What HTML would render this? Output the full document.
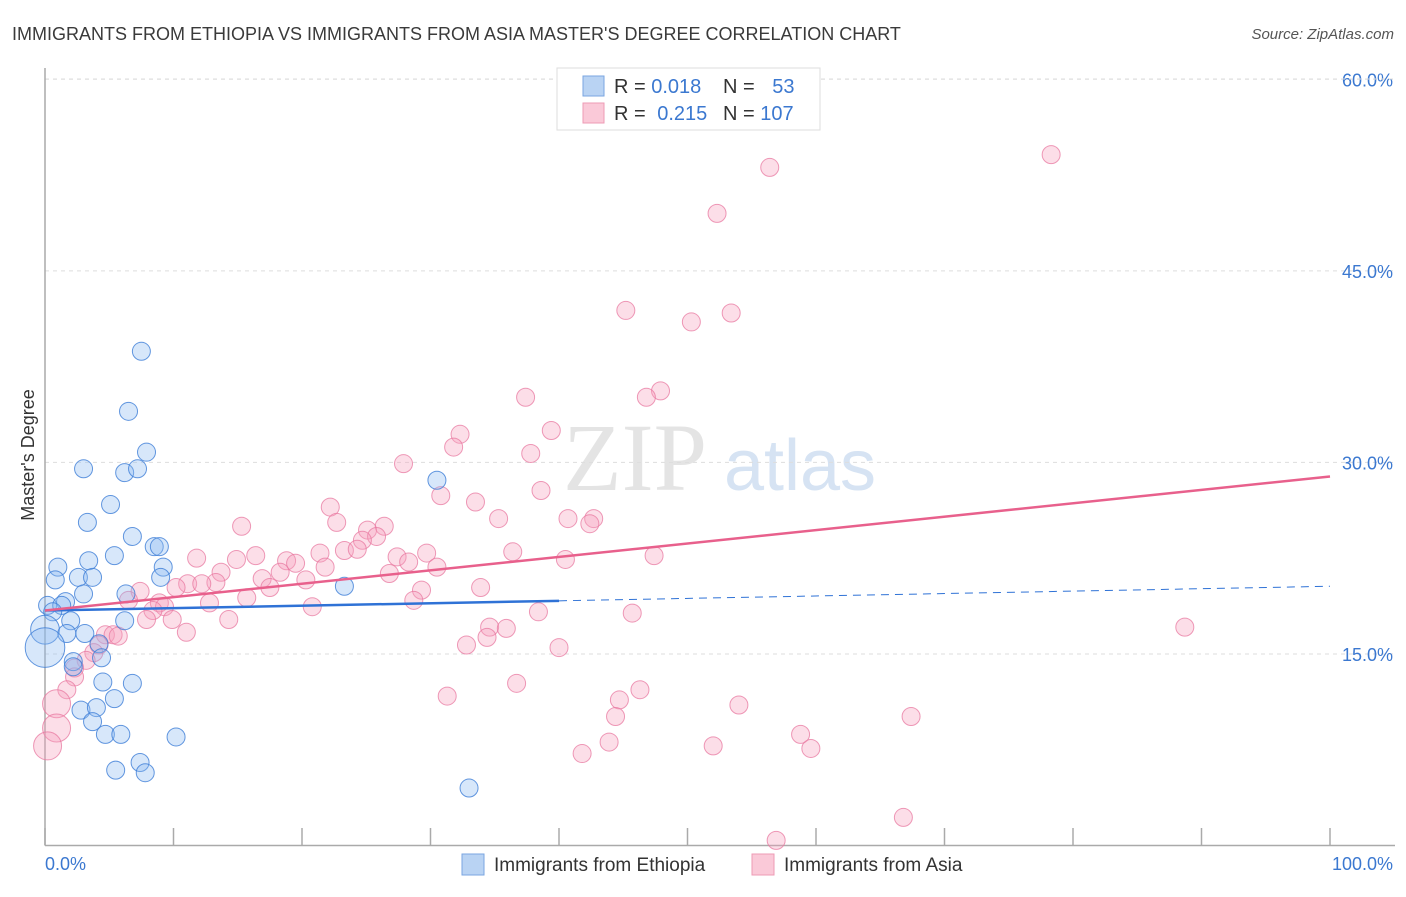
<!DOCTYPE html>
<html><head><meta charset="utf-8"><style>
body{margin:0;background:#fff;font-family:"Liberation Sans",sans-serif;}
svg text{font-family:"Liberation Sans",sans-serif;}
</style></head><body>
<svg id="chart" width="1406" height="892" xmlns="http://www.w3.org/2000/svg">
<text x="12" y="40" font-size="18" fill="#3a3a3a">IMMIGRANTS FROM ETHIOPIA VS IMMIGRANTS FROM ASIA MASTER'S DEGREE CORRELATION CHART</text>
<text x="1394" y="39" font-size="15" fill="#555" font-style="italic" text-anchor="end">Source: ZipAtlas.com</text>
<g>
<text x="635" y="490" font-size="96" fill="#e4e4e4" text-anchor="middle" style="font-family:'Liberation Serif',serif">ZIP</text>
<text x="800" y="490" font-size="72" fill="#d6e3f3" text-anchor="middle">atlas</text>
</g>
<g id="grid"></g>
<g id="axes"></g>
<g id="pts"></g>
<g id="lines"></g>
<text x="34" y="455" font-size="18" fill="#333" text-anchor="middle" transform="rotate(-90 34 455)">Master's Degree</text>
<g>
<rect x="557" y="68" width="263" height="62" fill="#fff" stroke="#ddd"/>
<rect x="583" y="76" width="21" height="20" fill="#b9d3f3" stroke="#7aa6e0"/>
<rect x="583" y="103" width="21" height="20" fill="#fac9d8" stroke="#ee9bb5"/>
<text x="614" y="93" font-size="20" fill="#333">R = <tspan fill="#3b78d0">0.018</tspan></text>
<text x="723" y="93" font-size="20" fill="#333">N = <tspan fill="#3b78d0" dx="12">53</tspan></text>
<text x="614" y="120" font-size="20" fill="#333">R = <tspan fill="#3b78d0" dx="6">0.215</tspan></text>
<text x="723" y="120" font-size="20" fill="#333">N = <tspan fill="#3b78d0">107</tspan></text>
</g>
<g>
<rect x="462" y="854" width="22" height="21" fill="#b9d3f3" stroke="#7aa6e0"/>
<text x="494" y="871" font-size="19" fill="#333">Immigrants from Ethiopia</text>
<rect x="752" y="854" width="22" height="21" fill="#fac9d8" stroke="#ee9bb5"/>
<text x="784" y="871" font-size="19" fill="#333">Immigrants from Asia</text>
</g>
</svg>
<script>
const yTicks=[15,30,45,60];
const yTickLabels=["15.0%","30.0%","45.0%","60.0%"];
const xTicks=[0,10,20,30,40,50,60,70,80,90,100];
const xEndLabels=["0.0%","100.0%"];
const ethX=[7.5,6.5,7.9,3.0,6.2,7.2,5.1,3.3,6.8,8.5,8.9,5.4,3.4,1.0,9.2,2.6,3.7,9.0,0.8,23.3,3.0,6.3,1.6,0.2,1.3,0.6,2.0,6.2,0,1.7,3.1,4.2,0,2.2,4.4,2.2,4.5,6.8,5.4,2.8,4.0,3.7,4.7,5.9,10.2,7.4,5.5,7.8,30.5,33.0];
const ethY=[38.7,34.0,30.8,29.5,29.2,29.5,26.7,25.3,24.2,23.4,23.4,22.7,22.3,21.8,21.8,21.0,21.0,21.0,20.8,20.3,19.7,19.7,19.1,18.8,18.8,18.3,17.6,17.6,16.9,16.6,16.6,15.8,15.5,14.4,14.7,14.0,12.8,12.7,11.5,10.6,10.8,9.7,8.7,8.7,8.5,6.5,5.9,5.7,28.6,4.5];
const ethW=[1,1,1,1,1,1,1,1,1,1,1,1,1,1,1,1,1,1,1,1,1,1,1,1,1,1,1,1,1.6,1,1,1,2.2,1,1,1,1,1,1,1,1,1,1,1,1,1,1,1,1,1];
const asiaX=[78.3,56.4,52.3,45.2,53.4,50.3,47.9,46.8,37.4,32.3,31.8,39.4,37.8,27.9,38.6,30.8,33.5,22.2,35.3,40.7,42.7,42.4,15.3,22.7,26.4,25.1,25.8,24.7,23.3,24.3,36.4,29.7,21.4,47.4,27.4,40.5,11.8,14.9,16.4,18.8,19.5,28.3,21.8,30.5,13.7,18.3,26.8,16.9,20.3,13.3,11.1,12.2,17.5,10.2,33.9,29.3,7.4,15.7,6.5,8.9,28.7,9.3,12.8,8.4,20.8,38.4,45.7,7.9,9.9,14.3,88.7,34.6,35.9,11.0,34.4,4.7,5.3,5.7,40.0,32.8,4.2,3.8,3.2,2.3,2.3,46.3,36.7,1.7,44.7,31.3,54.0,44.4,67.4,0.9,0.9,0.2,58.8,43.9,52.0,59.6,41.8,66.8,56.9];
const asiaY=[54.1,53.1,49.5,41.9,41.7,41.0,35.6,35.1,35.1,32.2,31.2,32.5,30.7,29.9,27.8,27.4,26.9,26.5,25.6,25.6,25.6,25.2,25.0,25.3,25.0,24.7,24.2,23.9,23.1,23.2,23.0,22.9,22.9,22.7,22.6,22.4,22.5,22.4,22.7,22.3,22.1,22.2,21.8,21.8,21.4,21.4,21.3,20.9,20.8,20.6,20.5,20.5,20.2,20.2,20.2,20.0,19.9,19.4,19.2,19.0,19.2,18.7,19.0,18.4,18.7,18.3,18.2,17.7,17.7,17.7,17.1,17.1,17.0,16.7,16.3,16.5,16.5,16.4,15.5,15.7,15.7,15.1,14.5,13.9,13.2,12.2,12.7,12.2,11.4,11.7,11.0,10.1,10.1,11.1,9.2,7.8,8.7,8.1,7.8,7.6,7.2,2.2,0.4];
const ethLine=[18.4,20.3];
const ethSolidEnd=40;
const asiaLine=[18.4,28.9];
</script>
<script>
const NS="http://www.w3.org/2000/svg";
const X0=45,X1=1330,Y0=845.5,PPY=12.77;
const sx=v=>X0+(X1-X0)*v/100;
const sy=v=>Y0-v*PPY;
function mk(tag,attrs,parent){const e=document.createElementNS(NS,tag);for(const k in attrs)e.setAttribute(k,attrs[k]);parent.appendChild(e);return e;}
const gridG=document.getElementById('grid'),axesG=document.getElementById('axes'),ptsG=document.getElementById('pts'),linesG=document.getElementById('lines');
yTicks.forEach((t,i)=>{
  const l=mk('line',{x1:X0,x2:1395,y1:sy(t),y2:sy(t),stroke:'#ddd','stroke-dasharray':'4,4'},gridG);
  
  
  const tx=mk('text',{x:1393,y:sy(t)+7,'font-size':18,fill:'#3b78d0','text-anchor':'end'},gridG);
  tx.textContent=yTickLabels[i];
  
  
});
const topGrid=mk('line',{x1:X0,x2:1395,y1:79,y2:79,stroke:'#ddd','stroke-dasharray':'4,4'},gridG);


const ya=mk('line',{x1:X0,x2:X0,y1:68,y2:Y0,stroke:'#aaa','stroke-width':1.5},axesG);


const xa=mk('line',{x1:X0,x2:1395,y1:Y0,y2:Y0,stroke:'#aaa','stroke-width':1.5},axesG);


xTicks.forEach(t=>{
  const tk=mk('line',{x1:sx(t),x2:sx(t),y1:828,y2:Y0,stroke:'#aaa','stroke-width':1.5},axesG);
  
  
});
const xl0=mk('text',{x:45,y:870,'font-size':18,fill:'#3b78d0'},axesG);xl0.textContent=xEndLabels[0];


const xl1=mk('text',{x:1393,y:870,'font-size':18,fill:'#3b78d0','text-anchor':'end'},axesG);xl1.textContent=xEndLabels[1];


asiaX.forEach((v,i)=>{
  const c=mk('circle',{cx:sx(v),cy:sy(asiaY[i]),r:(v<1.2&&asiaY[i]<12)?14:9,fill:'rgba(245,160,190,0.35)',stroke:'rgba(232,120,160,0.75)','stroke-width':1},ptsG);
  
  
});
ethX.forEach((v,i)=>{
  const c=mk('circle',{cx:sx(v),cy:sy(ethY[i]),r:9*ethW[i],fill:'rgba(140,185,240,0.35)',stroke:'rgba(60,125,215,0.8)','stroke-width':1},ptsG);
  
  
});
const lv=(a,x)=>a[0]+(a[1]-a[0])*x/100;
const e1=mk('line',{x1:sx(0),y1:sy(ethLine[0]),x2:sx(ethSolidEnd),y2:sy(lv(ethLine,ethSolidEnd)),stroke:'#2f72d6','stroke-width':2.5},linesG);


const e2=mk('line',{x1:sx(ethSolidEnd),y1:sy(lv(ethLine,ethSolidEnd)),x2:sx(100),y2:sy(ethLine[1]),stroke:'#2f72d6','stroke-width':1,'stroke-dasharray':'8,6'},linesG);


const a1=mk('line',{x1:sx(0),y1:sy(asiaLine[0]),x2:sx(100),y2:sy(asiaLine[1]),stroke:'#e8608c','stroke-width':2.5},linesG);


</script>
</body></html>
